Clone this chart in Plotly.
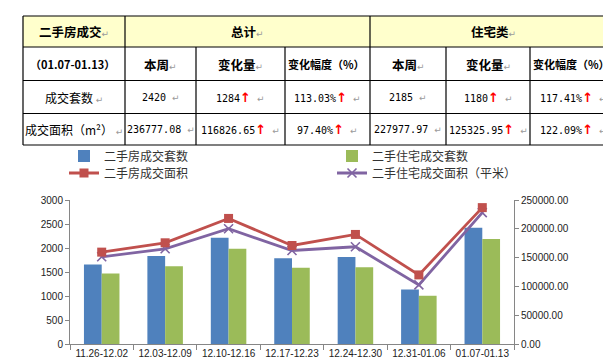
import plotly.graph_objects as go

# ---------------- data ----------------
weeks = ['11.26-12.02', '12.03-12.09', '12.10-12.16', '12.17-12.23',
         '12.24-12.30', '12.31-01.06', '01.07-01.13']
units_total = [1655, 1831, 2213, 1789, 1810, 1136, 2420]      # 二手房成交套数
units_res = [1468, 1622, 1983, 1587, 1601, 1005, 2185]        # 二手住宅成交套数
area_total = [159500, 175700, 218000, 171000, 190200, 119950, 236777.08]  # 二手房成交面积
area_res = [151400, 165300, 200100, 162300, 168800, 102652, 227977.97]    # 二手住宅成交面积（平米）

names = ['二手房成交套数', '二手住宅成交套数', '二手房成交面积', '二手住宅成交面积（平米）']

# table content
tbl_head1 = ['二手房成交', '总计', '住宅类']
tbl_head2 = ['（01.07-01.13）', '本周', '变化量', '变化幅度（%）', '本周', '变化量', '变化幅度（%）']
row_labels = ['成交套数', '成交面积（m²）']
row_units = ['2420', '1284', '113.03%', '2185', '1180', '117.41%']
row_area = ['236777.08', '116826.65', '97.40%', '227977.97', '125325.95', '122.09%']
row_up = [False, True, True, False, True, True]

# ---------------- layout geometry (pixels) ----------------
W, H = 611, 359
PL, PR, PT, PB = 62, 506, 192, 336


def px(x):
    return (x - PL) / (PR - PL)


def py(y):
    return (PB - y) / (PB - PT)


BLUE, GREEN, RED, PURPLE = '#4F81BD', '#9BBB59', '#C0504D', '#8064A2'
AX = '#868686'
CJK = 'Noto Sans CJK SC'

fig = go.Figure()
fig.add_trace(go.Bar(x=weeks, y=units_total, name=names[0], marker=dict(color=BLUE, line=dict(width=0)),
                     legend='legend'))
fig.add_trace(go.Bar(x=weeks, y=units_res, name=names[1], marker=dict(color=GREEN, line=dict(width=0)),
                     legend='legend2'))
fig.add_trace(go.Scatter(x=weeks, y=area_res, name=names[3], yaxis='y2', mode='lines+markers',
                         line=dict(color=PURPLE, width=2.8),
                         marker=dict(symbol='x-thin', size=9, line=dict(width=1.6, color=PURPLE)),
                         legend='legend4'))
fig.add_trace(go.Scatter(x=weeks, y=area_total, name=names[2], yaxis='y2', mode='lines+markers',
                         line=dict(color=RED, width=2.8),
                         marker=dict(symbol='square', size=9, color=RED),
                         legend='legend3'))

leg_common = dict(bgcolor='rgba(0,0,0,0)', borderwidth=0, yanchor='middle', xanchor='left',
                  font=dict(family=CJK, size=12, color='#333333'), itemwidth=30)

# ---------------- table (shapes + annotations) ----------------
shapes = []
T_TOP, T_BOT = 8, 137
rows_y = [8, 39, 72.5, 105.5, 137]
cols_x = [15, 117, 188, 277, 362, 438, 522, 608]
shapes.append(dict(type='rect', xref='paper', yref='paper', x0=px(15), x1=px(608), y0=py(8), y1=py(39),
                   fillcolor='#FFFFCC', line=dict(width=0), layer='below'))
for yy in rows_y:
    shapes.append(dict(type='line', xref='paper', yref='paper', x0=px(15), x1=px(608), y0=py(yy), y1=py(yy),
                       line=dict(color='black', width=1.2)))
for xx in cols_x:
    full = xx in (15, 117, 362, 608)
    shapes.append(dict(type='line', xref='paper', yref='paper', x0=px(xx), x1=px(xx),
                       y0=py(T_TOP if full else 39), y1=py(T_BOT), line=dict(color='black', width=1.2)))

annotations = []
MARK = "<span style='font-family:DejaVu Sans;font-size:9px;color:#9a9a9a'>↵</span>"
ARROW = "<span style='font-family:DejaVu Sans;font-size:13px;color:#FF0000;font-weight:bold'>↑</span>"


def add_text(xc, yc, text, size=12, family=CJK):
    annotations.append(dict(x=px(xc), y=py(yc), xref='paper', yref='paper', text=text, showarrow=False,
                            xanchor='center', yanchor='middle', font=dict(family=family, size=size, color='black')))


row1_x = [(15 + 117) / 2, (117 + 362) / 2, (362 + 608) / 2]
for t, xc in zip(tbl_head1, row1_x):
    add_text(xc, 23.5, '<b>' + t + '</b>' + MARK, size=12.5)
centers = [(cols_x[i] + cols_x[i + 1]) / 2 for i in range(7)]
for t, xc in zip(tbl_head2, centers):
    long = len(t) > 5
    add_text(xc - (1.5 if long else 0), 56, '<b>' + t + '</b>' + ('' if long else MARK),
             size=11 if long else 12.5)
for r, (lab, vals) in enumerate(zip(row_labels, [row_units, row_area])):
    yc = [89, 121][r]
    add_text(centers[0], yc, lab + ' ' + MARK, size=12)
    for j, v in enumerate(vals):
        txt = v + (ARROW if row_up[j] else '') + ' ' + MARK
        add_text(centers[j + 1], yc, txt, size=10, family='DejaVu Sans Mono')

tick_font = dict(family='Liberation Sans', size=10, color='#222222')
fig.update_layout(
    width=W, height=H,
    margin=dict(l=PL, r=W - PR, t=PT, b=H - PB, autoexpand=False),
    paper_bgcolor='white', plot_bgcolor='white',
    barmode='group', bargap=0.44, bargroupgap=0.0,
    showlegend=True,
    legend=dict(x=px(56), y=py(148), **leg_common),
    legend2=dict(x=px(324), y=py(148), **leg_common),
    legend3=dict(x=px(56), y=py(165), **leg_common),
    legend4=dict(x=px(324), y=py(165), **leg_common),
    xaxis=dict(type='category', showline=True, linecolor=AX, linewidth=1, ticks='outside', tickson='boundaries',
               ticklen=5, tickcolor=AX, showgrid=False, zeroline=False, tickangle=0,
               tickfont=tick_font),
    yaxis=dict(range=[0, 3000], dtick=500, showline=True, linecolor=AX, ticks='outside', ticklen=4,
               tickcolor=AX, showgrid=False, zeroline=False, tickfont=tick_font),
    yaxis2=dict(range=[0, 250000], dtick=50000, tickformat='.2f', overlaying='y', side='right',
                showline=True, linecolor=AX, ticks='outside', ticklen=4, tickcolor=AX, showgrid=False,
                zeroline=False, tickfont=tick_font),
    shapes=shapes,
    annotations=annotations,
)

fig.write_html('out.html')
